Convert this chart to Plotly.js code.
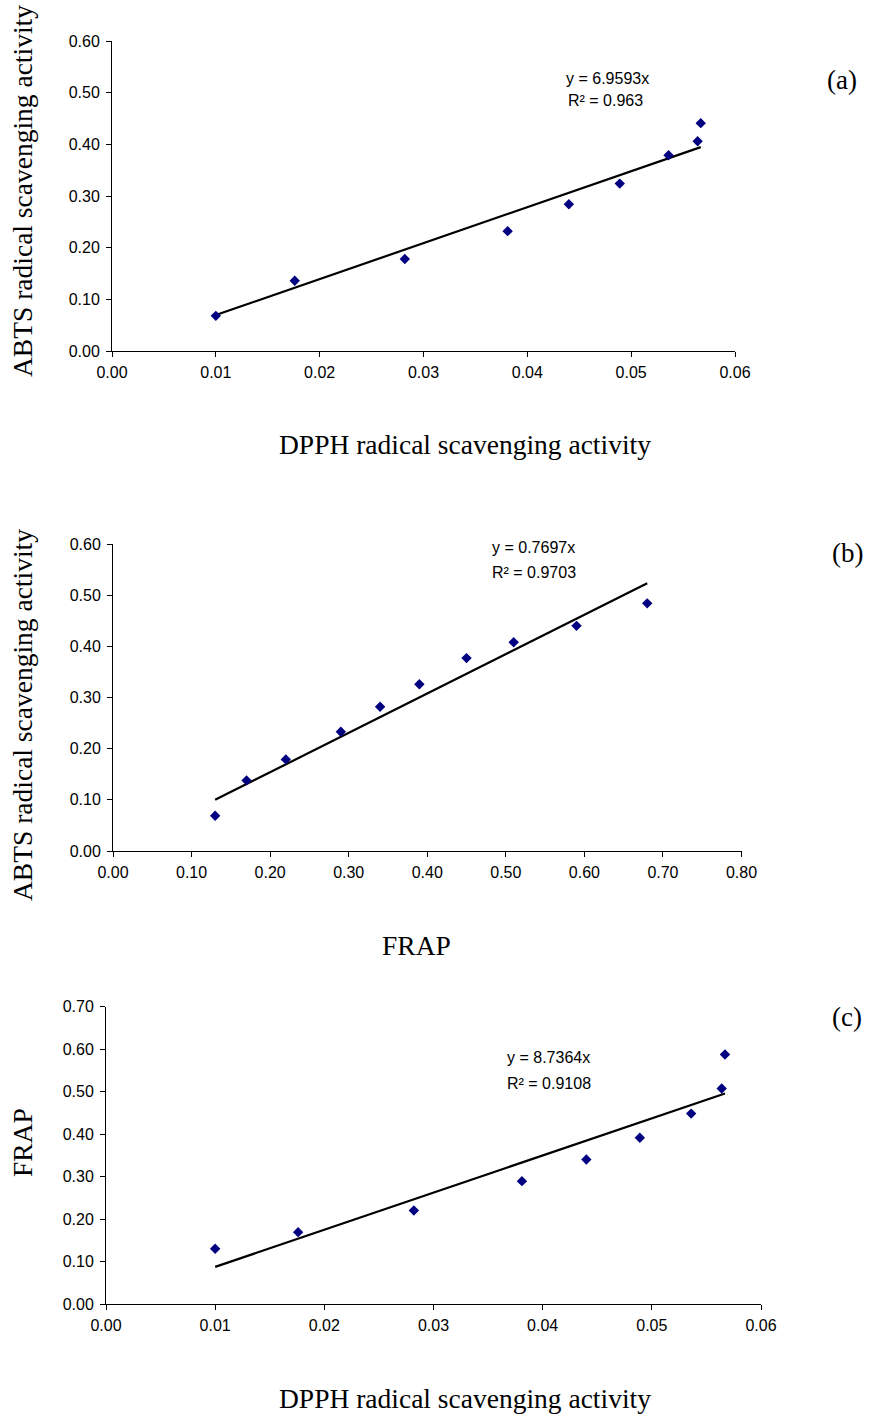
<!DOCTYPE html>
<html>
<head>
<meta charset="utf-8">
<script src="https://cdn.plot.ly/plotly-3.0.1.min.js"></script>
<style>
  html, body { margin: 0; padding: 0; background: #fff; }
  #chart { width: 875px; height: 1414px; }
</style>
</head>
<body>
<div id="chart"></div>
<script>
// ---- Data ----
var dpph   = [0.0100, 0.0176, 0.0282, 0.0381, 0.0440, 0.0489, 0.0536, 0.0564, 0.0567];
var abtsA  = [0.068, 0.136, 0.178, 0.232, 0.284, 0.324, 0.379, 0.406, 0.441];
var frapB  = [0.13, 0.17, 0.22, 0.29, 0.34, 0.39, 0.45, 0.51, 0.59, 0.68];
var abtsB  = [0.069, 0.138, 0.179, 0.233, 0.282, 0.326, 0.377, 0.408, 0.440, 0.484];
var frapC  = [0.130, 0.169, 0.220, 0.289, 0.340, 0.391, 0.448, 0.507, 0.587];

var slopeA = 6.9593, r2A = "0.963";
var slopeB = 0.7697, r2B = "0.9703";
var slopeC = 8.7364, r2C = "0.9108";

var panelLabels = ["(a)", "(b)", "(c)"];
var xTitles = ["DPPH radical scavenging activity", "FRAP", "DPPH radical scavenging activity"];
var yTitles = ["ABTS radical scavenging activity", "ABTS radical scavenging activity", "FRAP"];

// ---- helpers ----
var W = 875, H = 1414;
function px(x) { return x / W; }
function py(y) { return 1 - y / H; }
function minOf(a) { return Math.min.apply(null, a); }
function maxOf(a) { return Math.max.apply(null, a); }

var MARK = { symbol: 'diamond', size: 8, color: '#000080' };
var LINE = { color: '#000000', width: 2.2 };

function scatter(x, y, ax) {
  return { x: x, y: y, type: 'scatter', mode: 'markers', marker: MARK,
           xaxis: 'x' + ax, yaxis: 'y' + ax, cliponaxis: false, hoverinfo: 'x+y' };
}
function trend(x, slope, ax) {
  var x0 = minOf(x), x1 = maxOf(x);
  return { x: [x0, x1], y: [slope * x0, slope * x1], type: 'scatter', mode: 'lines',
           line: LINE, xaxis: 'x' + ax, yaxis: 'y' + ax, cliponaxis: false, hoverinfo: 'skip' };
}

var data = [
  trend(dpph, slopeA, ''), scatter(dpph, abtsA, ''),
  trend(frapB, slopeB, '2'), scatter(frapB, abtsB, '2'),
  trend(dpph, slopeC, '3'), scatter(dpph, frapC, '3')
];

var tickFont = { family: 'Liberation Sans, Arial, sans-serif', size: 16, color: '#000' };
function xax(domain, range, dtick, anchor) {
  return { domain: domain, range: range, dtick: dtick, tick0: 0, tickformat: '.2f',
           showline: true, linecolor: '#000', linewidth: 1, ticks: 'outside', ticklen: 5,
           tickcolor: '#000', tickwidth: 1, showgrid: false, zeroline: false,
           tickfont: tickFont, ticklabelstandoff: 2, anchor: anchor, fixedrange: true };
}
function yax(domain, range, dtick, anchor) {
  return { domain: domain, range: range, dtick: dtick, tick0: 0, tickformat: '.2f',
           showline: true, linecolor: '#000', linewidth: 1, ticks: 'outside', ticklen: 5,
           tickcolor: '#000', tickwidth: 1, showgrid: false, zeroline: false,
           tickfont: tickFont, ticklabelstandoff: 3, anchor: anchor, fixedrange: true };
}

var serif = { family: 'Liberation Serif, Times New Roman, serif', size: 27.5, color: '#000' };
var labelFont = { family: 'Liberation Serif, Times New Roman, serif', size: 27, color: '#000' };
var eqFont = { family: 'Liberation Sans, Arial, sans-serif', size: 16, color: '#000' };

function ann(text, x, y, font, opts) {
  var a = { text: text, x: px(x), y: py(y), xref: 'paper', yref: 'paper',
            showarrow: false, font: font, xanchor: 'center', yanchor: 'middle' };
  if (opts) for (var k in opts) a[k] = opts[k];
  return a;
}

var annotations = [
  // axis titles
  ann(yTitles[0], 22, 191, serif, { textangle: -90 }),
  ann(xTitles[0], 465, 445, serif),
  ann(yTitles[1], 22, 715, serif, { textangle: -90 }),
  ann(xTitles[1], 416, 945, serif),
  ann(yTitles[2], 22, 1143, serif, { textangle: -90 }),
  ann(xTitles[2], 465, 1398, serif),
  // panel labels
  ann(panelLabels[0], 842, 80, labelFont),
  ann(panelLabels[1], 847, 553, labelFont),
  ann(panelLabels[2], 847, 1017, labelFont),
  // equations
  ann('y = ' + slopeA + 'x', 607, 78, eqFont),
  ann('R\u00B2 = ' + r2A, 605, 100, eqFont),
  ann('y = ' + slopeB + 'x', 490, 547, eqFont, { xanchor: 'left' }),
  ann('R\u00B2 = ' + r2B, 490, 572, eqFont, { xanchor: 'left' }),
  ann('y = ' + slopeC + 'x', 505, 1057, eqFont, { xanchor: 'left' }),
  ann('R\u00B2 = ' + r2C, 505, 1083, eqFont, { xanchor: 'left' })
];

var layout = {
  width: W, height: H,
  margin: { l: 0, r: 0, t: 0, b: 0, pad: 0 },
  paper_bgcolor: '#fff', plot_bgcolor: '#fff',
  showlegend: false,
  xaxis:  xax([px(112), px(735)], [0, 0.06], 0.01, 'y'),
  yaxis:  yax([py(351), py(41)], [0, 0.6], 0.1, 'x'),
  xaxis2: xax([px(113), px(741.5)], [0, 0.8], 0.1, 'y2'),
  yaxis2: yax([py(851), py(544)], [0, 0.6], 0.1, 'x2'),
  xaxis3: xax([px(106), px(761)], [0, 0.06], 0.01, 'y3'),
  yaxis3: yax([py(1304), py(1006.5)], [0, 0.7], 0.1, 'x3'),
  annotations: annotations
};

Plotly.newPlot('chart', data, layout, { displayModeBar: false, staticPlot: true });
</script>
</body>
</html>
